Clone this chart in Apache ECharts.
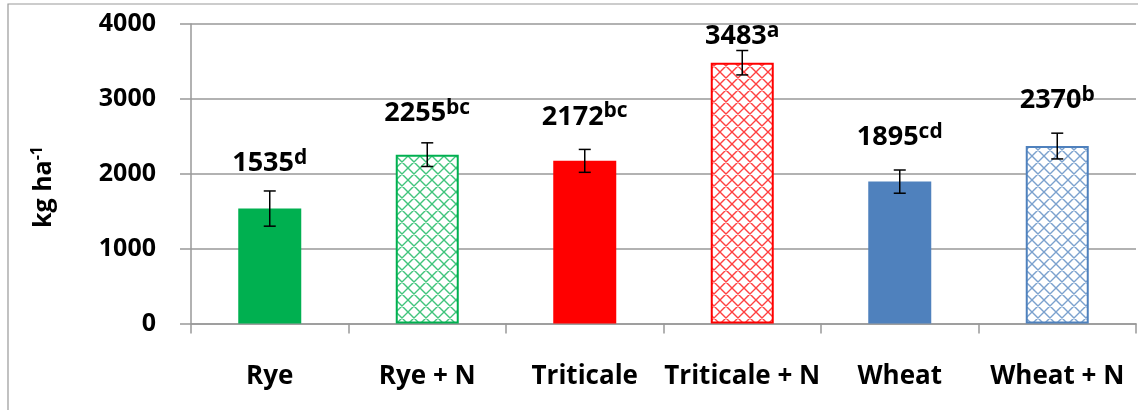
<!DOCTYPE html>
<html><head><meta charset="utf-8">
<script src="https://cdn.jsdelivr.net/npm/echarts@6/dist/echarts.min.js"></script>
<style>html,body{margin:0;padding:0;background:#fff}#c{width:1138px;height:410px}</style>
</head><body><div id="c"></div>
<script>
const categories = ['Rye', 'Rye + N', 'Triticale', 'Triticale + N', 'Wheat', 'Wheat + N'];
const values = [1535, 2255, 2172, 3483, 1895, 2370];
const errors = [235, 158, 153, 163, 155, 172];
const letters = ['d', 'bc', 'bc', 'a', 'cd', 'b'];
const yTicks = [0, 1000, 2000, 3000, 4000];

const colors = ['#00B050', '#00B050', '#FF0000', '#FF0000', '#4F81BD', '#4F81BD'];
const hatched = [false, true, false, true, false, true];
const labelDist = [29, 25, 28, 10, 28, 30];
const FONT = '"Open Sans", "Noto Sans", sans-serif';

function hatch(color) {
  const c = document.createElement('canvas'); c.width = 12; c.height = 12;
  const g = c.getContext('2d');
  g.fillStyle = '#fff'; g.fillRect(0, 0, 12, 12);
  g.strokeStyle = color; g.lineWidth = 1.4; g.globalAlpha = 0.75;
  g.beginPath();
  for (let k = -1; k <= 1; k++) {
    g.moveTo(12 * k - 2, -2); g.lineTo(12 * k + 14, 14);
    g.moveTo(12 * k + 14, -2); g.lineTo(12 * k - 2, 14);
  }
  g.stroke();
  return c;
}

const chart = echarts.init(document.getElementById('c'));
const barData = values.map((v, i) => ({
  value: v,
  itemStyle: hatched[i]
    ? { color: { image: hatch(colors[i]), repeat: 'repeat' }, borderColor: colors[i], borderWidth: 2 }
    : { color: colors[i] },
  label: { distance: labelDist[i] }
}));

chart.setOption({
  animation: false,
  backgroundColor: '#fff',
  grid: { left: 191, right: 2, top: 24, bottom: 86.5, containLabel: false, outerBoundsMode: 'none' },
  xAxis: {
    type: 'category', data: categories,
    axisLine: { lineStyle: { color: '#999', width: 1.5 } },
    axisTick: { show: true, alignWithLabel: false, length: 10, lineStyle: { color: '#999', width: 1.5 } },
    axisLabel: { interval: 0, margin: 40, color: '#000', fontFamily: FONT, fontWeight: 'bold', fontSize: 26 }
  },
  yAxis: {
    type: 'value', min: yTicks[0], max: yTicks[yTicks.length - 1], interval: 1000,
    axisLine: { show: true, lineStyle: { color: '#999', width: 1.5 } },
    axisTick: { show: true, inside: false, length: 11, lineStyle: { color: '#999', width: 1.5 } },
    splitLine: { show: true, lineStyle: { color: '#999', width: 1.5 } },
    axisLabel: { margin: 35, color: '#000', fontFamily: FONT, fontWeight: 'bold', fontSize: 25, formatter: v => String(v) }
  },
  graphic: [
    { type: 'rect', shape: { x: 8, y: 4, width: 1200, height: 500 }, style: { fill: 'none', stroke: '#999', lineWidth: 1.2 }, silent: true, z: -1 },
    { type: 'text', x: 44, y: 187, rotation: Math.PI / 2,
      style: { text: '{m|kg ha}{s|-1}', align: 'center', verticalAlign: 'middle',
        rich: { m: { fontFamily: FONT, fontWeight: 'bold', fontSize: 25, fill: '#000', lineHeight: 30 },
                s: { fontFamily: FONT, fontWeight: 'bold', fontSize: 16, fill: '#000', lineHeight: 14, verticalAlign: 'top' } } } }
  ],
  series: [
    {
      type: 'bar', data: barData, barWidth: '40%',
      label: {
        show: true, position: 'top',
        formatter: p => '{v|' + p.value + '}{s|' + letters[p.dataIndex] + '}',
        rich: {
          v: { fontFamily: FONT, fontWeight: 'bold', fontSize: 27, color: '#000', lineHeight: 32 },
          s: { fontFamily: FONT, fontWeight: 'bold', fontSize: 21, color: '#000', lineHeight: 16, verticalAlign: 'top' }
        }
      }
    },
    {
      type: 'custom', z: 5,
      data: values.map((v, i) => [i, v, errors[i]]),
      encode: { x: 0, y: 1 },
      renderItem: (params, api) => {
        const i = api.value(0), v = api.value(1), e = api.value(2);
        const t = api.coord([i, v + e]), b = api.coord([i, v - e]);
        const hw = 6, st = { stroke: '#000', lineWidth: 1.5 };
        return { type: 'group', children: [
          { type: 'line', shape: { x1: t[0], y1: t[1], x2: b[0], y2: b[1] }, style: st },
          { type: 'line', shape: { x1: t[0] - hw, y1: t[1], x2: t[0] + hw, y2: t[1] }, style: st },
          { type: 'line', shape: { x1: b[0] - hw, y1: b[1], x2: b[0] + hw, y2: b[1] }, style: st }
        ] };
      }
    }
  ]
});
</script></body></html>
